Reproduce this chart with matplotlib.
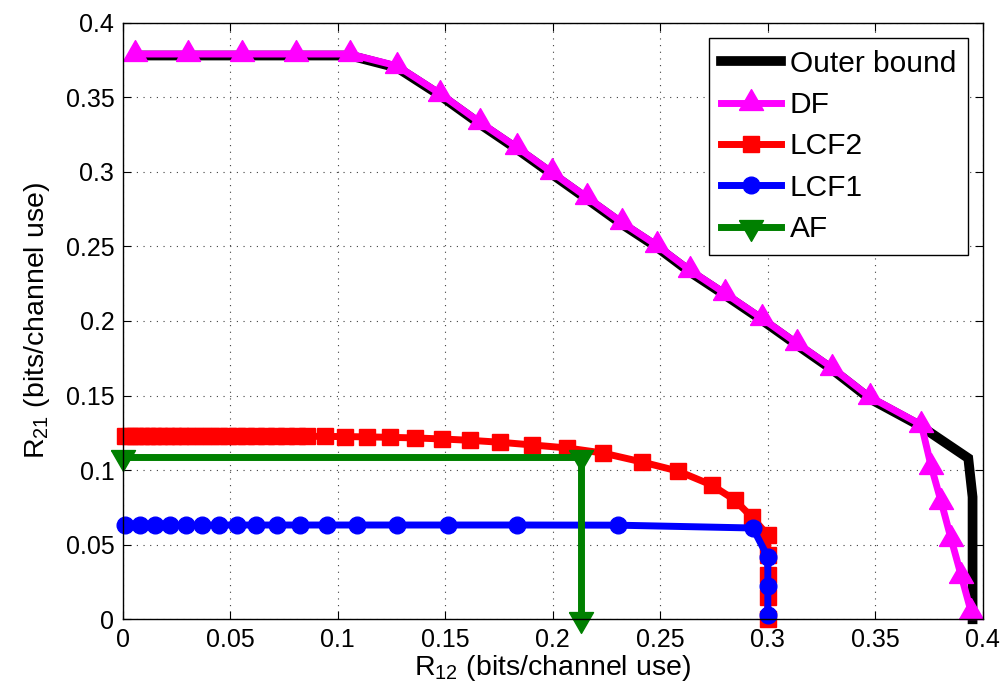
import numpy as np
import matplotlib
matplotlib.use("Agg")
import matplotlib.pyplot as plt

plt.rcParams['font.family'] = ['Liberation Sans', 'DejaVu Sans']
plt.rcParams['mathtext.default'] = 'regular'

# ---- data ----
outer_x = [0.0057, 0.1057, 0.1277, 0.1476, 0.1662, 0.1834, 0.1996, 0.2159, 0.2321, 0.2484,
           0.2637, 0.2800, 0.2971, 0.3134, 0.3300, 0.3473, 0.3714, 0.3932, 0.3952, 0.3952]
outer_y = [0.3780, 0.3780, 0.3698, 0.3513, 0.3320, 0.3152, 0.2985, 0.2818, 0.2650, 0.2496,
           0.2330, 0.2175, 0.2008, 0.1841, 0.1674, 0.1480, 0.1292, 0.1080, 0.0820, 0.0]

df_x = [0.0057, 0.0304, 0.0555, 0.0806, 0.1057, 0.1277, 0.1476, 0.1662, 0.1834, 0.1996,
        0.2159, 0.2321, 0.2484, 0.2637, 0.2800, 0.2971, 0.3134, 0.3300, 0.3473, 0.3714,
        0.3760, 0.3807, 0.3853, 0.3900, 0.3946]
df_y = [0.3790, 0.3790, 0.3790, 0.3790, 0.3790, 0.3710, 0.3525, 0.3332, 0.3164, 0.2997,
        0.2830, 0.2662, 0.2508, 0.2342, 0.2187, 0.2020, 0.1853, 0.1686, 0.1492, 0.1304,
        0.1023, 0.0783, 0.0535, 0.0288, 0.0047]

lcf2_x = [0.0011, 0.0034, 0.0059, 0.0085, 0.0113, 0.0141, 0.0171, 0.0201, 0.0234, 0.0266,
          0.0301, 0.0336, 0.0373, 0.0410, 0.0450, 0.0490, 0.0531, 0.0575, 0.0620, 0.0666,
          0.0713, 0.0761, 0.0810, 0.0857, 0.0940, 0.1033, 0.1136, 0.1242, 0.1359, 0.1484,
          0.1614, 0.1754, 0.1903, 0.2065, 0.2232, 0.2414, 0.2582, 0.2739, 0.2846, 0.2925,
          0.3000, 0.3000, 0.3000, 0.3000, 0.3000]
lcf2_y = [0.1228, 0.1228, 0.1228, 0.1228, 0.1228, 0.1228, 0.1228, 0.1228, 0.1228, 0.1228,
          0.1228, 0.1228, 0.1228, 0.1228, 0.1228, 0.1228, 0.1228, 0.1228, 0.1228, 0.1228,
          0.1228, 0.1228, 0.1228, 0.1227, 0.1226, 0.1225, 0.1223, 0.1220, 0.1216, 0.1209,
          0.1200, 0.1187, 0.1169, 0.1149, 0.1115, 0.1055, 0.0994, 0.0900, 0.0800, 0.0686,
          0.0565, 0.0430, 0.0295, 0.0150, 0.0]

lcf1_x = [0.0011, 0.0080, 0.0150, 0.0219, 0.0294, 0.0369, 0.0448, 0.0531, 0.0620, 0.0717,
          0.0824, 0.0950, 0.1089, 0.1275, 0.1512, 0.1833, 0.2302, 0.2930, 0.3000, 0.3000,
          0.3000]
lcf1_y = [0.0632, 0.0632, 0.0632, 0.0632, 0.0632, 0.0632, 0.0632, 0.0632, 0.0632, 0.0632,
          0.0632, 0.0632, 0.0632, 0.0632, 0.0632, 0.0632, 0.0631, 0.0612, 0.0418, 0.0223,
          0.0029]

af_x = [0.0, 0.2133, 0.2133]
af_y = [0.1088, 0.1088, 0.0]

ticks = [0, 0.05, 0.1, 0.15, 0.2, 0.25, 0.3, 0.35, 0.4]
tick_labels = ['0', '0.05', '0.1', '0.15', '0.2', '0.25', '0.3', '0.35', '0.4']

# MATLAB-like triangles (anchored at centroid, wider than tall)
tri_up = [(-1, -0.579), (1, -0.579), (0, 1.157), (-1, -0.579)]
tri_dn = [(x, -y) for x, y in tri_up]

fig = plt.figure(figsize=(10.05, 6.9), dpi=100)
ax = fig.add_axes([0.122, 0.1025, 0.856, 0.8646])

ax.plot(outer_x, outer_y, color='black', lw=7, label='Outer bound', clip_on=False,
        solid_joinstyle='miter')
ax.plot(df_x, df_y, color='#ff00ff', lw=5, marker=tri_up, ms=20, mew=1,
        label='DF', clip_on=False)
ax.plot(lcf2_x, lcf2_y, color='red', lw=5, marker='s', ms=11, mew=1,
        label='LCF2', clip_on=False)
ax.plot(lcf1_x, lcf1_y, color='blue', lw=5, marker='o', ms=12, mew=1,
        label='LCF1', clip_on=False)
ax.plot(af_x, af_y, color='#008000', lw=5, marker=tri_dn, ms=20, mew=1,
        label='AF', clip_on=False)

ax.set_xlim(0, 0.4)
ax.set_ylim(0, 0.4)
ax.set_xticks(ticks)
ax.set_xticklabels(tick_labels)
ax.set_yticks(ticks)
ax.set_yticklabels(tick_labels)
ax.tick_params(direction='in', length=6, width=0.8, top=True, right=True,
               labelsize=18, pad=6)
ax.grid(True, linestyle=(0, (1, 5)), color='0.25', lw=0.8)
for s in ax.spines.values():
    s.set_linewidth(1.0)

ax.set_xlabel('R$_{12}$ (bits/channel use)', fontsize=20.5, labelpad=1)
ax.set_ylabel('R$_{21}$ (bits/channel use)', fontsize=20.5, labelpad=10)

leg = ax.legend(loc='upper right', fontsize=21.5, numpoints=1, fancybox=False,
                framealpha=1, edgecolor='black', handlelength=2.0, labelspacing=0.45,
                borderaxespad=0.5, handletextpad=0.3, borderpad=0.4)
leg.get_frame().set_linewidth(1.0)

fig.savefig('out.png', dpi=100)
